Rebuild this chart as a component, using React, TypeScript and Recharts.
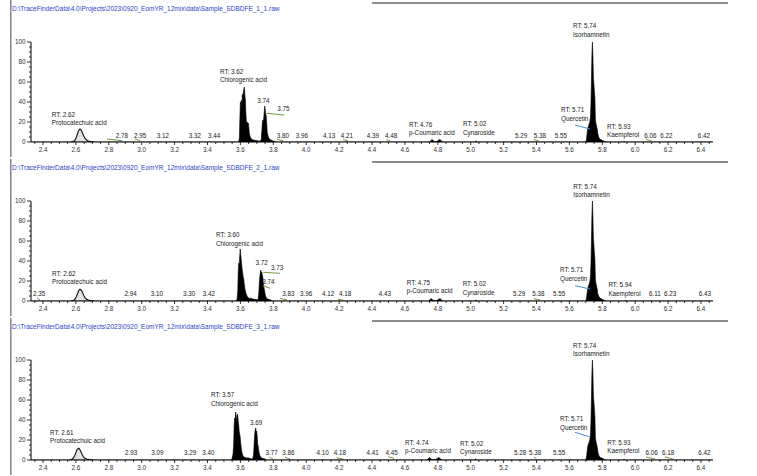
import React from "react";
import { ComposedChart, Area, XAxis, YAxis, ReferenceDot, ReferenceLine } from "recharts";

// ---------- tick labels ----------
const xMajorTicks = [2.4, 2.6, 2.8, 3.0, 3.2, 3.4, 3.6, 3.8, 4.0, 4.2, 4.4, 4.6, 4.8, 5.0, 5.2, 5.4, 5.6, 5.8, 6.0, 6.2, 6.4];
const yMajorTicks = [0, 20, 40, 60, 80, 100];
const xAllTicks = Array.from({ length: 83 }, (_, i) => +(2.35 + i * 0.05).toFixed(2));
const yAllTicks = Array.from({ length: 21 }, (_, i) => i * 5);

// ---------- titles ----------
const titles = [
  "D:\\TraceFinderData\\4.0\\Projects\\2023\\0920_EomYR_12mix\\data\\Sample_SDBDFE_1_1.raw",
  "D:\\TraceFinderData\\4.0\\Projects\\2023\\0920_EomYR_12mix\\data\\Sample_SDBDFE_2_1.raw",
  "D:\\TraceFinderData\\4.0\\Projects\\2023\\0920_EomYR_12mix\\data\\Sample_SDBDFE_3_1.raw",
];

// ---------- panel 1 series (RT min, relative abundance %) ----------
const p1Proto: [number, number][] = [
  [2.57, 0], [2.585, 0.5], [2.595, 2], [2.603, 5], [2.61, 8.5], [2.617, 11.5], [2.625, 13], [2.632, 12],
  [2.64, 9], [2.648, 6], [2.656, 3.5], [2.665, 2], [2.675, 1], [2.69, 0.4], [2.71, 0],
];
const p1Trace: [number, number][] = [
  [2.33, 0], [3.585, 0],
  [3.59, 0.5], [3.594, 4], [3.597, 25], [3.6, 40], [3.603, 38], [3.606, 42], [3.609, 36], [3.612, 48],
  [3.615, 44], [3.618, 50], [3.621, 53], [3.624, 55], [3.627, 47], [3.63, 42], [3.633, 30], [3.636, 21],
  [3.639, 19], [3.642, 20], [3.645, 18], [3.648, 19], [3.651, 15], [3.654, 9], [3.658, 6], [3.662, 4],
  [3.667, 3], [3.672, 2.5], [3.678, 2], [3.685, 2], [3.692, 1.5], [3.7, 1.5], [3.708, 1], [3.716, 1],
  [3.722, 1], [3.727, 3], [3.73, 10], [3.733, 18], [3.736, 22], [3.739, 20], [3.742, 24], [3.745, 30],
  [3.748, 36], [3.751, 32], [3.754, 28], [3.757, 26], [3.76, 18], [3.763, 10], [3.767, 7], [3.772, 4],
  [3.778, 3], [3.785, 2], [3.792, 1.5], [3.8, 1], [3.81, 0.5], [3.82, 0],
  [4.75, 0], [4.758, 1.5], [4.765, 2.5], [4.772, 1.5], [4.78, 0.5], [4.795, 0.5], [4.805, 2], [4.812, 2.5], [4.82, 1.5], [4.83, 0],
  [5.025, 0], [5.033, 1], [5.04, 0],
  [5.7, 0], [5.704, 3], [5.708, 9], [5.712, 14], [5.716, 16], [5.72, 18], [5.724, 20], [5.728, 25],
  [5.731, 38], [5.734, 62], [5.737, 88], [5.74, 100], [5.743, 86], [5.746, 64], [5.749, 58], [5.752, 50],
  [5.755, 44], [5.758, 22], [5.761, 19], [5.765, 16], [5.769, 13], [5.773, 8], [5.778, 5], [5.784, 3],
  [5.79, 2.5], [5.797, 2], [5.805, 1.2], [5.815, 0.5], [5.825, 0],
  [5.925, 0], [5.932, 0.5], [5.94, 0],
  [6.47, 0],
];
const p1Small: [number, number, string][] = [
  [2.88, 4.5, "2.78"], [2.99, 4.5, "2.95"], [3.129, 4.5, "3.12"], [3.324, 4.5, "3.32"], [3.44, 4.5, "3.44"],
  [3.739, 39, "3.74"], [3.861, 31.4, "3.75"], [3.859, 4.5, "3.80"], [3.974, 4.5, "3.96"], [4.139, 4.5, "4.13"],
  [4.248, 4.5, "4.21"], [4.406, 4.5, "4.39"], [4.516, 4.5, "4.48"], [5.306, 4.5, "5.29"], [5.421, 4.5, "5.38"],
  [5.549, 4.5, "5.55"], [6.093, 4.5, "6.06"], [6.19, 4.5, "6.22"], [6.418, 4.5, "6.42"],
];
const p1Named: [number, number, string, string][] = [
  [2.453, 25.4, "RT: 2.62", "Protocatechuic acid"], [3.476, 68, "RT: 3.62", "Chlorogenic acid"],
  [4.625, 15.4, "RT: 4.76", "p-Coumaric acid"], [4.953, 15.7, "RT: 5.02", "Cynaroside"],
  [5.549, 29.7, "RT: 5.71", "Quercetin"], [5.622, 113.7, "RT: 5.74", "Isorhamnetin"],
  [5.829, 13, "RT: 5.93", "Kaempferol"],
];
const p1Leaders: [number, number, number, number, string][] = [
  [2.789, 3, 2.88, 1.3, "g"], [2.959, 3, 2.99, 1.5, "g"], [3.76, 28.7, 3.867, 27, "g"], [3.821, 2.7, 3.861, 1.3, "g"],
  [4.224, 2.5, 4.254, 1.2, "g"], [4.489, 2.5, 4.509, 1.2, "g"], [5.385, 2.5, 5.411, 1.2, "g"], [6.066, 2.5, 6.1, 1.2, "g"],
  [5.634, 17, 5.725, 13, "b"],
];

// ---------- panel 2 series ----------
const p2Proto: [number, number][] = [
  [2.57, 0], [2.585, 0.5], [2.595, 2], [2.603, 4.5], [2.61, 7.5], [2.617, 10.5], [2.625, 11.7], [2.632, 11],
  [2.64, 8.5], [2.648, 5.5], [2.656, 3.2], [2.665, 1.8], [2.675, 1], [2.69, 0.4], [2.71, 0],
];
const p2Trace: [number, number][] = [
  [2.33, 0], [3.575, 0],
  [3.58, 2], [3.584, 10], [3.587, 30], [3.59, 38], [3.593, 35], [3.596, 45], [3.599, 52], [3.602, 46],
  [3.605, 41], [3.608, 36], [3.611, 31], [3.614, 28], [3.617, 24], [3.62, 22], [3.624, 16], [3.628, 12],
  [3.633, 8], [3.638, 6], [3.643, 4], [3.65, 3], [3.658, 2.5], [3.665, 3], [3.672, 2], [3.68, 2],
  [3.69, 1.5], [3.698, 1.5], [3.705, 1],
  [3.708, 2], [3.712, 8], [3.715, 18], [3.718, 24], [3.721, 28], [3.724, 31], [3.727, 27], [3.73, 29],
  [3.733, 26], [3.736, 24], [3.739, 18], [3.742, 14], [3.745, 12], [3.749, 8], [3.753, 5], [3.758, 3],
  [3.765, 2], [3.775, 1.5], [3.785, 1], [3.795, 0],
  [4.745, 0], [4.752, 1.5], [4.759, 2.5], [4.766, 1.5], [4.775, 0.5], [4.795, 0.5], [4.806, 2], [4.813, 2.5], [4.82, 1.5], [4.83, 0],
  [5.025, 0], [5.033, 1], [5.04, 0],
  [5.7, 0], [5.704, 3], [5.708, 8], [5.712, 13], [5.716, 15], [5.72, 17], [5.724, 19], [5.728, 24],
  [5.731, 36], [5.734, 60], [5.737, 86], [5.74, 100], [5.743, 84], [5.746, 62], [5.749, 56], [5.752, 48],
  [5.755, 42], [5.758, 21], [5.761, 18], [5.765, 15], [5.769, 12], [5.773, 7], [5.778, 5], [5.784, 3],
  [5.79, 2.5], [5.797, 2], [5.805, 1.2], [5.815, 0.5], [5.825, 0],
  [5.935, 0], [5.942, 0.5], [5.95, 0],
  [6.47, 0],
];
const p2Small: [number, number, string][] = [
  [2.376, 5.5, "2.35"], [2.933, 5.5, "2.94"], [3.093, 5.5, "3.10"], [3.288, 5.5, "3.30"], [3.409, 5.5, "3.42"],
  [3.729, 36, "3.72"], [3.824, 31, "3.73"], [3.77, 17, "3.74"], [3.891, 5.5, "3.83"], [3.999, 5.5, "3.96"],
  [4.134, 5.5, "4.12"], [4.236, 5.5, "4.18"], [4.479, 5.5, "4.43"], [5.295, 5.5, "5.29"], [5.411, 5.5, "5.38"],
  [5.537, 5.5, "5.55"], [6.12, 5.5, "6.11"], [6.212, 5.5, "6.23"], [6.424, 5.5, "6.43"],
];
const p2Named: [number, number, string, string][] = [
  [2.455, 25.4, "RT: 2.62", "Protocatechuic acid"], [3.452, 63.7, "RT: 3.60", "Chlorogenic acid"],
  [4.611, 16, "RT: 4.75", "p-Coumaric acid"], [4.951, 14.7, "RT: 5.02", "Cynaroside"],
  [5.543, 28.7, "RT: 5.71", "Quercetin"], [5.624, 112, "RT: 5.74", "Isorhamnetin"],
  [5.837, 13.7, "RT: 5.94", "Kaempferol"],
];
const p2Leaders: [number, number, number, number, string][] = [
  [2.364, 3, 2.382, 1, "g"], [3.739, 28.7, 3.841, 27.7, "g"], [3.737, 15.3, 3.781, 12.7, "g"], [3.841, 2.7, 3.885, 1, "g"],
  [4.193, 2, 4.23, 0.5, "g"], [5.385, 2.5, 5.421, 1, "g"],
  [5.634, 15.3, 5.725, 12, "b"],
];

// ---------- panel 3 series ----------
const p3Proto: [number, number][] = [
  [2.56, 0], [2.575, 0.5], [2.585, 2], [2.593, 4.5], [2.6, 7.5], [2.607, 10.5], [2.615, 11.7], [2.622, 11],
  [2.63, 8.5], [2.638, 5.5], [2.646, 3.2], [2.655, 1.8], [2.665, 1], [2.68, 0.4], [2.7, 0],
];
const p3Trace: [number, number][] = [
  [2.33, 0], [3.545, 0],
  [3.55, 2], [3.555, 6], [3.559, 15], [3.562, 35], [3.565, 42], [3.568, 40], [3.571, 48], [3.574, 44],
  [3.577, 38], [3.58, 45], [3.583, 46], [3.586, 40], [3.589, 36], [3.592, 30], [3.595, 26], [3.598, 24],
  [3.601, 18], [3.605, 12], [3.61, 7], [3.616, 4], [3.622, 3], [3.63, 2.5], [3.64, 2], [3.65, 2],
  [3.66, 1.5], [3.67, 1],
  [3.675, 1.5], [3.68, 5], [3.684, 18], [3.687, 26], [3.69, 30], [3.693, 32], [3.696, 28], [3.699, 29],
  [3.702, 24], [3.705, 16], [3.708, 14], [3.712, 9], [3.717, 5], [3.723, 3], [3.73, 2], [3.74, 1.5], [3.75, 1], [3.76, 0],
  [4.735, 0], [4.742, 1.5], [4.749, 2.5], [4.756, 1.5], [4.765, 0.5], [4.788, 0.5], [4.8, 2], [4.807, 2.5], [4.814, 1.5], [4.825, 0],
  [5.022, 0], [5.03, 1], [5.037, 0],
  [5.7, 0], [5.704, 3], [5.708, 9], [5.712, 14], [5.716, 16], [5.72, 18], [5.724, 20], [5.728, 25],
  [5.731, 38], [5.734, 62], [5.737, 88], [5.74, 100], [5.743, 86], [5.746, 64], [5.749, 58], [5.752, 50],
  [5.755, 44], [5.758, 22], [5.761, 19], [5.765, 16], [5.769, 13], [5.773, 8], [5.778, 5], [5.784, 3],
  [5.79, 2.5], [5.797, 2], [5.805, 1.2], [5.815, 0.5], [5.825, 0],
  [5.925, 0], [5.932, 0.5], [5.94, 0],
  [6.47, 0],
];
const p3Small: [number, number, string][] = [
  [2.935, 5, "2.93"], [3.095, 5, "3.09"], [3.294, 5, "3.29"], [3.405, 5, "3.40"], [3.695, 35, "3.69"],
  [3.79, 5, "3.77"], [3.891, 5, "3.86"], [4.1, 5, "4.10"], [4.205, 5, "4.18"], [4.404, 5, "4.41"],
  [4.52, 5, "4.45"], [5.3, 5, "5.28"], [5.391, 5, "5.38"], [5.537, 5, "5.55"], [6.1, 5, "6.06"],
  [6.201, 5, "6.18"], [6.42, 5, "6.42"],
];
const p3Named: [number, number, string, string][] = [
  [2.443, 25.4, "RT: 2.61", "Protocatechuic acid"], [3.421, 62.7, "RT: 3.57", "Chlorogenic acid"],
  [4.601, 15, "RT: 4.74", "p-Coumaric acid"], [4.935, 14.4, "RT: 5.02", "Cynaroside"],
  [5.543, 38.7, "RT: 5.71", "Quercetin"], [5.622, 112, "RT: 5.74", "Isorhamnetin"],
  [5.83, 15, "RT: 5.93", "Kaempferol"],
];
const p3Leaders: [number, number, number, number, string][] = [
  [3.776, 2.7, 3.796, 1.5, "g"], [3.871, 2.7, 3.902, 1, "g"], [4.185, 2.3, 4.226, 1, "g"], [4.499, 3.3, 4.534, 1.7, "g"],
  [5.385, 3, 5.401, 1, "g"], [6.066, 3, 6.12, 1, "g"], [6.181, 3, 6.232, 1, "g"],
  [5.634, 27.7, 5.721, 23.3, "b"],
];

// ---------- rendering ----------
const FONT = "'Liberation Sans', Arial, sans-serif";
const GREEN = "#6f9a3e";
const BLUE = "#3f8fd6";

const toPts = (arr: [number, number][]) => arr.map(([rt, v]) => ({ rt, v }));

const XTick = (props: any) => {
  const { x, y, payload } = props;
  const val = payload.value as number;
  const major = xMajorTicks.some((m) => Math.abs(m - val) < 1e-6);
  return (
    <g>
      <line x1={x} y1={y} x2={x} y2={y + (major ? 3 : 2)} stroke="#000" strokeWidth={0.8} />
      {major && (
        <text x={x} y={y + 10.3} textAnchor="middle" fontSize={6.3} fontFamily={FONT} fill="#333">
          {val.toFixed(1)}
        </text>
      )}
    </g>
  );
};

const YTick = (props: any) => {
  const { x, y, payload } = props;
  const val = payload.value as number;
  const major = yMajorTicks.includes(val);
  return (
    <g>
      <line x1={x - (major ? 4 : 2)} y1={y} x2={x} y2={y} stroke="#000" strokeWidth={0.8} />
      {major && (
        <text x={x - 5.5} y={y + 2.3} textAnchor="end" fontSize={6.3} fontFamily={FONT} fill="#333">
          {val}
        </text>
      )}
    </g>
  );
};

type PanelProps = {
  top: number;
  title: string;
  proto: [number, number][];
  trace: [number, number][];
  small: [number, number, string][];
  named: [number, number, string, string][];
  leaders: [number, number, number, number, string][];
};

function Panel({ top, title, proto, trace, small, named, leaders }: PanelProps) {
  return (
    <div style={{ position: "absolute", left: 0, top, width: 757, height: 159 }}>
      <svg width={757} height={159} style={{ position: "absolute", left: 0, top: 0 }}>
        <line x1={10.8} y1={0} x2={10.8} y2={157} stroke="#8c8c8c" strokeWidth={1.6} />
        <line x1={372} y1={3} x2={728} y2={3} stroke="#8c8c8c" strokeWidth={2} />
        <text x={12} y={10.7} fontSize={6.5} fill="#2a44c8" fontFamily={FONT}>
          {title}
        </text>
      </svg>
      <div style={{ position: "absolute", left: 0, top: 0 }}>
        <ComposedChart width={757} height={159} margin={{ top: 42, right: 44, bottom: 0, left: 10 }}>
          <XAxis
            type="number"
            dataKey="rt"
            domain={[2.327, 6.473]}
            allowDataOverflow
            ticks={xAllTicks}
            interval={0}
            tick={<XTick />}
            tickLine={false}
            tickSize={0}
            tickMargin={0}
            height={17}
            axisLine={{ stroke: "#000", strokeWidth: 1 }}
          />
          <YAxis
            type="number"
            dataKey="v"
            domain={[0, 100]}
            allowDataOverflow
            ticks={yAllTicks}
            interval={0}
            tick={<YTick />}
            tickLine={false}
            tickSize={0}
            tickMargin={0}
            width={21}
            axisLine={{ stroke: "#000", strokeWidth: 1 }}
          />
          <Area
            data={toPts(proto)}
            dataKey="v"
            type="linear"
            stroke="#111"
            strokeWidth={1.1}
            fill="#e2e2e2"
            fillOpacity={1}
            isAnimationActive={false}
            dot={false}
            activeDot={false}
          />
          <Area
            data={toPts(trace)}
            dataKey="v"
            type="linear"
            stroke="#000"
            strokeWidth={0.6}
            fill="#000"
            fillOpacity={1}
            isAnimationActive={false}
            dot={false}
            activeDot={false}
          />
          {leaders.map(([x1, y1, x2, y2, c], i) => (
            <ReferenceLine
              key={"l" + i}
              segment={[{ x: x1, y: y1 }, { x: x2, y: y2 }]}
              stroke={c === "b" ? BLUE : GREEN}
              strokeWidth={1}
              ifOverflow="visible"
            />
          ))}
          {small.map(([rt, v, t], i) => (
            <ReferenceDot
              key={"s" + i}
              x={rt}
              y={v}
              ifOverflow="visible"
              shape={(p: any) => (
                <text x={p.cx} y={p.cy} textAnchor="middle" fontSize={6.3} fontFamily={FONT} fill="#222">
                  {t}
                </text>
              )}
            />
          ))}
          {named.map(([rt, v, a, b], i) => (
            <ReferenceDot
              key={"n" + i}
              x={rt}
              y={v}
              ifOverflow="visible"
              shape={(p: any) => (
                <g>
                  <text x={p.cx} y={p.cy} textAnchor="start" fontSize={6.3} fontFamily={FONT} fill="#222">
                    {a}
                  </text>
                  <text x={p.cx} y={p.cy + 8.2} textAnchor="start" fontSize={6.3} fontFamily={FONT} fill="#222">
                    {b}
                  </text>
                </g>
              )}
            />
          ))}
        </ComposedChart>
      </div>
    </div>
  );
}

export default function App() {
  return (
    <div style={{ position: "absolute", left: 0, top: 0, width: 757, height: 476, background: "#fff" }}>
      <Panel top={0} title={titles[0]} proto={p1Proto} trace={p1Trace} small={p1Small} named={p1Named} leaders={p1Leaders} />
      <Panel top={159} title={titles[1]} proto={p2Proto} trace={p2Trace} small={p2Small} named={p2Named} leaders={p2Leaders} />
      <Panel top={318} title={titles[2]} proto={p3Proto} trace={p3Trace} small={p3Small} named={p3Named} leaders={p3Leaders} />
    </div>
  );
}
